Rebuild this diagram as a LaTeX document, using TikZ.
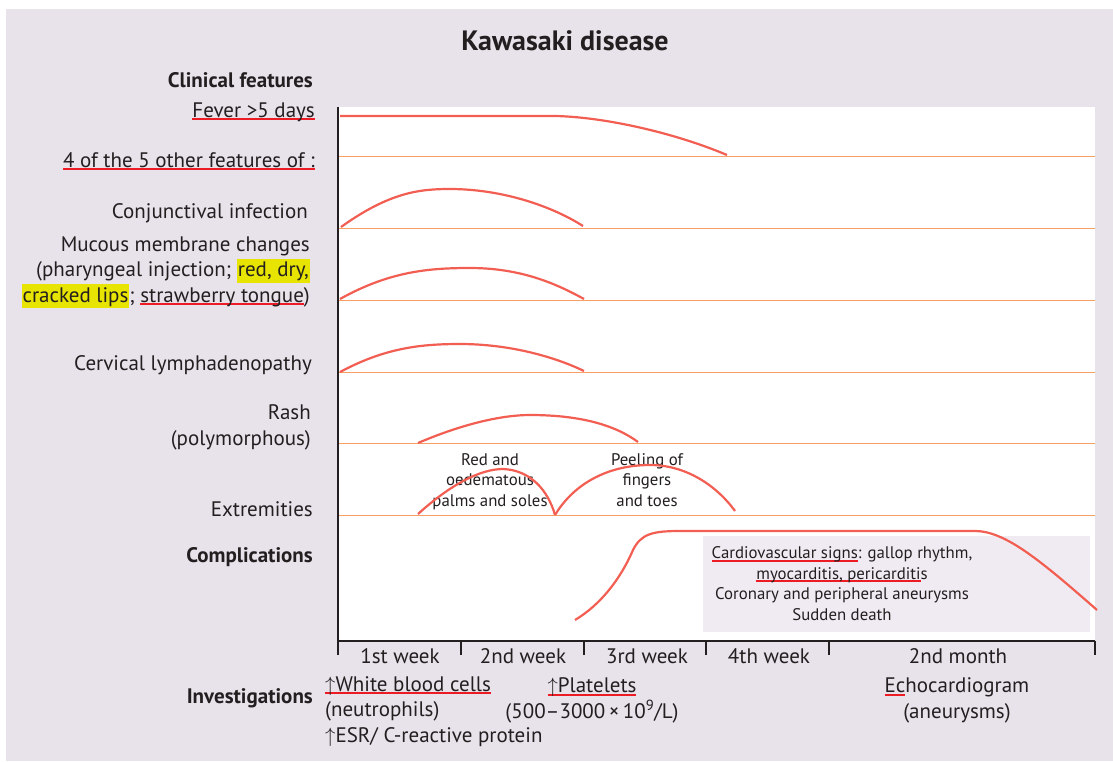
\documentclass[tikz,border=0pt]{standalone}
\usepackage{fontspec}
\setmainfont{PT Sans}
\usepackage{xcolor}
\usetikzlibrary{positioning}
\definecolor{bglav}{RGB}{232,226,234}
\definecolor{boxlav}{RGB}{240,235,242}
\definecolor{curvered}{RGB}{242,94,82}
\definecolor{gridorange}{RGB}{248,160,100}
\definecolor{markred}{RGB}{237,28,36}
\definecolor{hlyellow}{RGB}{230,228,0}
\definecolor{inkgray}{RGB}{35,31,32}

\newcommand\redul[1]{\setbox0=\hbox{#1}\rlap{\color{markred}\rule[-3pt]{\wd0}{1.6pt}}\box0}
\newcommand\hlite[1]{{\fboxsep=1pt\colorbox{hlyellow}{\rule[-5pt]{0pt}{22pt}#1}}}

\begin{document}
\begin{tikzpicture}[
    x=1pt, y=-1pt,
    every node/.style={inner sep=0pt, text=inkgray},
    lbl/.style={anchor=base east, font=\fontsize{21}{25.5}\selectfont},
    head/.style={anchor=base east, font=\fontsize{21}{25.5}\selectfont\bfseries},
    note/.style={anchor=base, align=center, font=\fontsize{16.8}{20.5}\selectfont},
    curve/.style={draw=curvered, line width=2.2pt},
    grid/.style={draw=gridorange, line width=0.9pt},
    axis/.style={draw=inkgray, line width=1.6pt}
]
    \useasboundingbox (0,0) rectangle (1113,761);
    \fill[bglav] (6,9) rectangle (1113,761);
    \fill[white] (339,107) rectangle (1095,641);
    \fill[boxlav] (703,536) rectangle (1090,632);

    % title and row labels (multi-line nodes sit on their last line)
    \node[anchor=base, font=\fontsize{28}{32}\selectfont\bfseries] (title) at (565,50) {Kawasaki disease};
    \node[head] (clinical) at (313,87) {Clinical features};
    \node[lbl] (fever) at (315,117) {\redul{Fever >5 days}};
    \node[lbl] (fourof) at (315,167) {\redul{4 of the 5 other features of :}};
    \node[lbl] (conj) at (308,218) {Conjunctival infection};
    \node[lbl, align=right] (mucous) at (310,302) {Mucous membrane changes\\(pharyngeal injection; \hlite{red, dry,}\\\hlite{cracked lips}; \redul{strawberry tongue})};
    \node[lbl] (cervical) at (312,370) {Cervical lymphadenopathy};
    \node[lbl, align=right] (rash) at (311,445) {Rash\\(polymorphous)};
    \node[lbl] (extrem) at (313,516) {Extremities};
    \node[head] (compl) at (313,562) {Complications};
    \node[head] (invest) at (313,703) {Investigations};

    % grid lines
    \foreach \gy in {156,228,300,372,443,515}
        \draw[grid] (339,\gy) -- (1095,\gy);

    % notes inside the chart
    \node[note] (palms) at (490,506) {Red and\\oedematous\\palms and soles};
    \node[note] (peeling) at (647,506) {Peeling of\\fingers\\and toes};
    \node[note] (cardio) at (842,620) {\redul{Cardiovascular signs}: gallop rhythm,\\\redul{myocarditis, pericarditi}s\\Coronary and peripheral aneurysms\\Sudden death};

    % curves
    \draw[curve] (340,116) -- (555,116) .. controls (605,117) and (675,133) .. (727,155);
    \draw[curve] (341,227) .. controls (390,192) and (420,189) .. (450,189) .. controls (500,189) and (550,205) .. (583,226);
    \draw[curve] (340,299) .. controls (390,271) and (430,268) .. (470,268) .. controls (520,268) and (555,283) .. (584,299);
    \draw[curve] (340,372) .. controls (385,348) and (420,344) .. (460,344) .. controls (510,344) and (555,357) .. (584,371);
    \draw[curve] (418,443) .. controls (460,425) and (500,415) .. (530,415) .. controls (580,415) and (615,425) .. (638,442);
    \draw[curve] (418,514) .. controls (450,485) and (480,469) .. (503,469) .. controls (530,470) and (548,490) .. (555,515);
    \draw[curve] (555,515) .. controls (575,482) and (610,465) .. (650,465) .. controls (690,465) and (720,490) .. (735,511);
    \draw[curve] (575,620) .. controls (600,605) and (620,580) .. (633,550) .. controls (641,534) and (652,531) .. (680,531) -- (975,531) .. controls (1005,531) and (1040,560) .. (1097,610);

    % axes
    \draw[axis] (338,107) -- (338,655);
    \draw[axis] (338,641) -- (1095,641);
    \foreach \tx in {461,584,706,829,1095}
        \draw[axis] (\tx,641) -- (\tx,655);

    % time labels
    \node[lbl, anchor=base] (wk1) at (400,663) {1st week};
    \node[lbl, anchor=base] (wk2) at (523,663) {2nd week};
    \node[lbl, anchor=base] (wk3) at (647,663) {3rd week};
    \node[lbl, anchor=base] (wk4) at (769,663) {4th week};
    \node[lbl, anchor=base] (mon2) at (958,663) {2nd month};

    % investigations
    \node[lbl, anchor=base west, align=left] (wbc) at (325,742) {\redul{$\uparrow$White blood cells}\\(neutrophils)\\$\uparrow$ESR/ C-reactive protein};
    \node[lbl, anchor=base, align=center] (platelets) at (592,718) {\redul{$\uparrow$Platelets}\\(500–3000\,×\,10\textsuperscript{9}/L)};
    \node[lbl, anchor=base, align=center] (echo) at (957,718) {\redul{Ec}hocardiogram\\(aneurysms)};
\end{tikzpicture}
\end{document}
